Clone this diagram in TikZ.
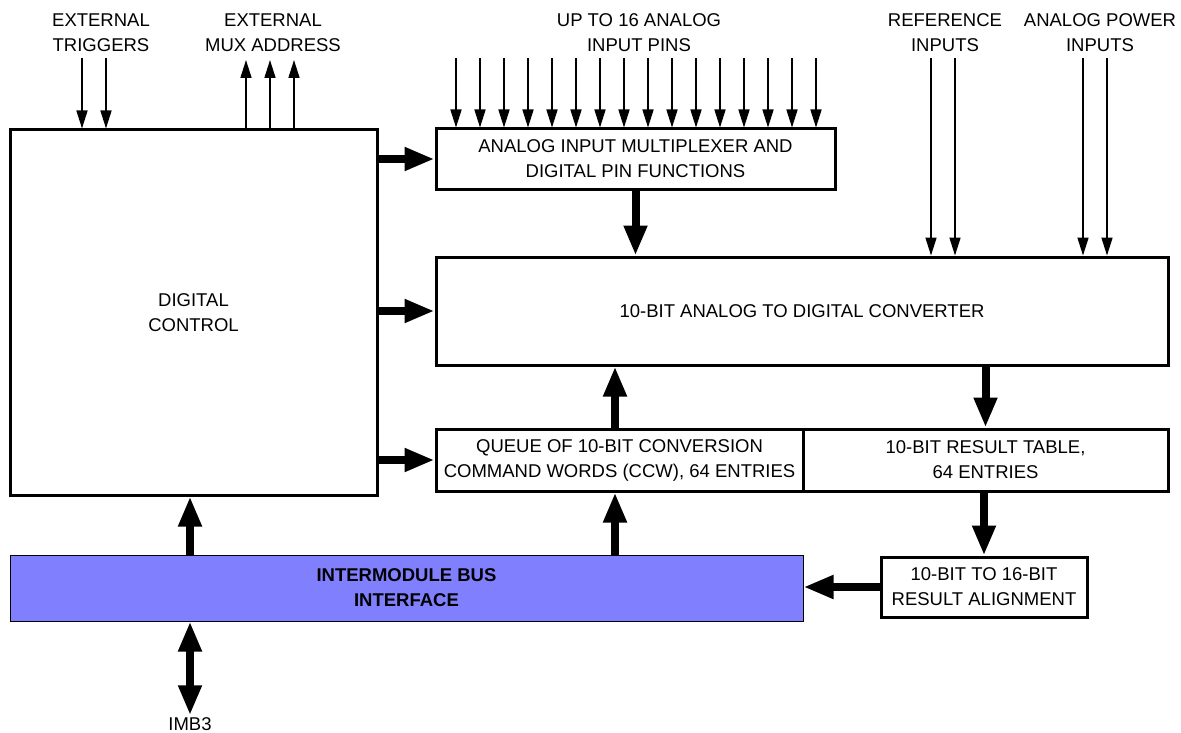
\documentclass[tikz,border=0pt]{standalone}
\usepackage{fontspec}
\setmainfont{Liberation Sans}
\usetikzlibrary{arrows.meta}
\begin{document}
\begin{tikzpicture}[x=1pt,y=-1pt,
  txt/.style={font=\fontsize{18.5}{25}\selectfont, align=center, inner sep=2pt},
  blk/.style={txt, draw, line width=3pt, fill=white},
  pinarrow/.style={line width=1.6pt, -{Triangle[length=18pt,width=11pt]}},
  bigarrow/.style={line width=8pt, -{Triangle[length=30pt,width=22pt]}},
  bigboth/.style={line width=8pt, {Triangle[length=30pt,width=22pt]}-{Triangle[length=30pt,width=22pt]}}
]
\useasboundingbox (0,0) rectangle (1181,733);

% blocks
\node[blk, minimum width=367pt, minimum height=365pt] (dc) at (193.5,312.5) {DIGITAL\\CONTROL};
\node[blk, minimum width=399pt, minimum height=60pt] (mux) at (635.5,159) {ANALOG INPUT MULTIPLEXER AND\\DIGITAL PIN FUNCTIONS};
\node[blk, minimum width=732pt, minimum height=108pt] (adc) at (802,311) {10-BIT ANALOG TO DIGITAL CONVERTER};
\node[blk, minimum width=367pt, minimum height=62pt] (queue) at (619.5,460) {QUEUE OF 10-BIT CONVERSION\\COMMAND WORDS (CCW), 64 ENTRIES};
\node[blk, minimum width=365pt, minimum height=62pt] (res) at (985.5,460) {10-BIT RESULT TABLE,\\64 ENTRIES};
\node[txt, draw, line width=1pt, fill={rgb,255:red,128;green,128;blue,255}, minimum width=793pt, minimum height=66pt] (bus) at (406.5,588) {\bfseries INTERMODULE BUS\\\bfseries INTERFACE};
\node[blk, minimum width=206pt, minimum height=60pt] (align) at (984,587) {10-BIT TO 16-BIT\\RESULT ALIGNMENT};

% labels
\node[txt] (ltrig) at (101,33) {EXTERNAL\\TRIGGERS};
\node[txt] (lmux) at (273,33) {EXTERNAL\\MUX ADDRESS};
\node[txt] (lpins) at (639,33) {UP TO 16 ANALOG\\INPUT PINS};
\node[txt] (lref) at (945,33) {REFERENCE\\INPUTS};
\node[txt] (lpow) at (1100,33) {ANALOG POWER\\INPUTS};
\node[txt] (imb) at (190,724) {IMB3};

% thin input arrows
\foreach \x/\n in {82/t1,106/t2} {
  \coordinate (\n) at (\x,58);
  \draw[pinarrow] (\n) -- (\n |- dc.north);
}
\foreach \x/\n in {246/m1,270/m2,294/m3} {
  \coordinate (\n) at (\x,60);
  \draw[pinarrow] (\n |- dc.north) -- (\n);
}
\foreach \i in {0,...,15} {
  \coordinate (p\i) at (456+24*\i,58);
  \draw[pinarrow] (p\i) -- (p\i |- mux.north);
}
\foreach \x/\n in {931/r1,955/r2,1083/a1,1107/a2} {
  \coordinate (\n) at (\x,58);
  \draw[pinarrow] (\n) -- (\n |- adc.north);
}

% thick arrows
\coordinate (xa) at (190,0);
\coordinate (xq) at (615,0);
\draw[bigarrow] (dc.east |- mux.west) -- (mux.west);
\draw[bigarrow] (dc.east |- adc.west) -- (adc.west);
\draw[bigarrow] (dc.east |- queue.west) -- (queue.west);
\draw[bigarrow] (mux.south) -- (mux.south |- adc.north);
\draw[bigarrow] (queue.north -| xq) -- (adc.south -| xq);
\draw[bigarrow] (bus.north -| xq) -- (queue.south -| xq);
\draw[bigarrow] (bus.north -| xa) -- (dc.south -| xa);
\draw[bigarrow] (adc.south -| res.north) -- (res.north);
\draw[bigarrow] (res.south -| align.north) -- (align.north);
\draw[bigarrow] (align.west) -- (align.west -| bus.east);
\draw[bigboth] (bus.south -| xa) -- (imb.north -| xa);
\end{tikzpicture}
\end{document}
